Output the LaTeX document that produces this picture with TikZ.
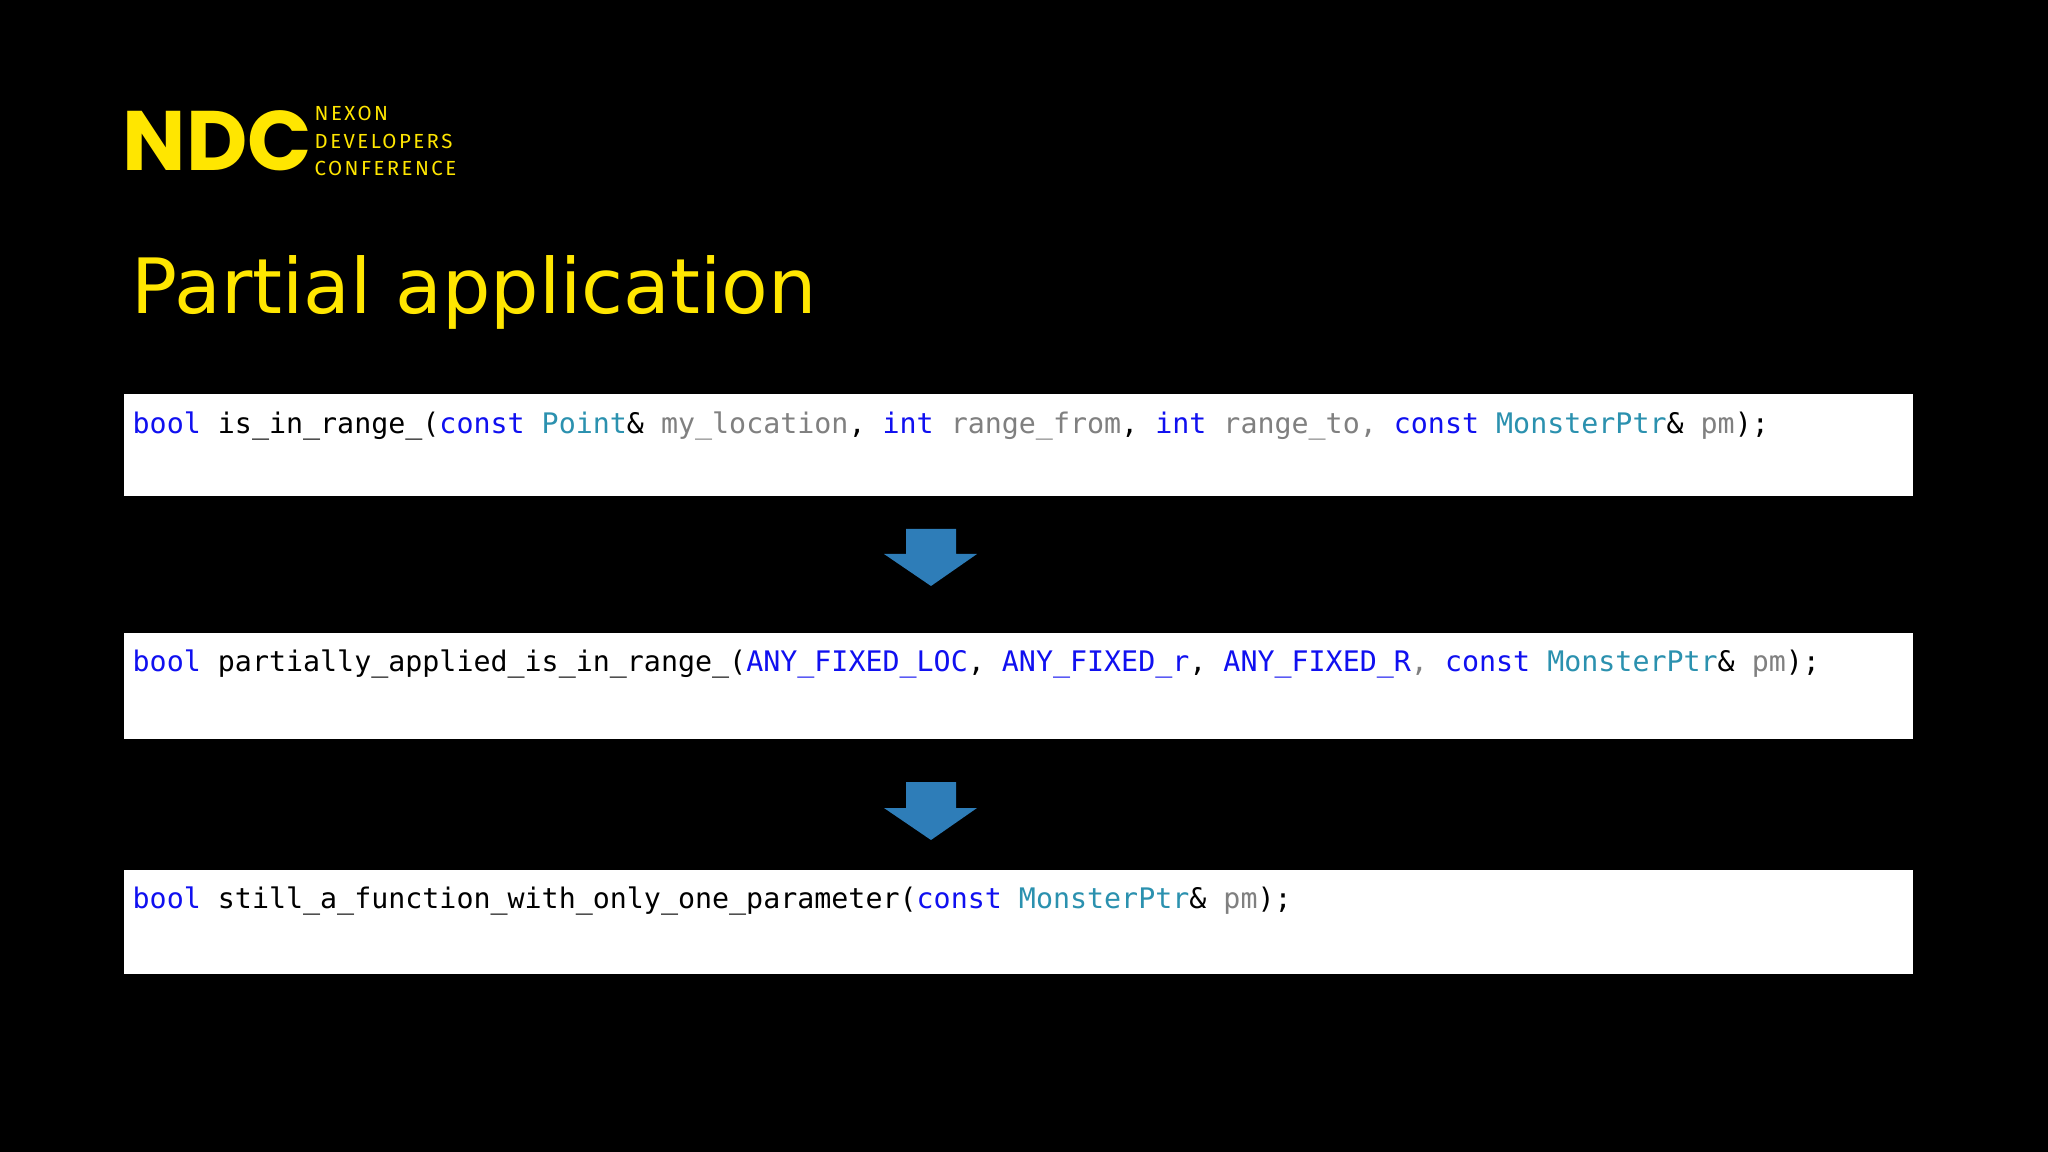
\documentclass[tikz,border=0pt]{standalone}
\usepackage{fontspec}
\setmainfont{DejaVu Sans}
\setmonofont{DejaVu Sans Mono}
\newfontfamily\logofont[LetterSpace=12]{Fira Sans}
\newfontfamily\ndcfont{Poppins Bold}
\definecolor{ndcyellow}{HTML}{FFE600}
\definecolor{kw}{HTML}{1010F0}
\definecolor{ty}{HTML}{2B91AF}
\definecolor{pa}{HTML}{808080}
\definecolor{arrowblue}{HTML}{2E7DB8}
\newcommand{\K}[1]{\textcolor{kw}{#1}}
\newcommand{\T}[1]{\textcolor{ty}{#1}}
\newcommand{\Pa}[1]{\textcolor{pa}{#1}}
\tikzset{
  codebox/.style={fill=white, draw=none},
  code/.style={anchor=west, inner sep=0pt, font=\ttfamily\fontsize{8.05pt}{9pt}\selectfont, text=black},
  downarrow/.style={fill=arrowblue, draw=none}
}
\begin{document}
\begin{tikzpicture}[x=0.01cm,y=-0.01cm]
\useasboundingbox[fill=black] (0,0) rectangle (2048,1152);
% logo
\node[anchor=west, inner sep=0pt, text=ndcyellow, font=\ndcfont\fontsize{24pt}{24pt}\selectfont] (ndc) at (122,141) {NDC};
\node[anchor=north west, inner sep=0pt, text=ndcyellow, align=left, font=\logofont\fontsize{5.8pt}{7.7pt}\selectfont] (ndctxt) at (314,106) {NEXON\\DEVELOPERS\\CONFERENCE};
% title
\node[anchor=west, inner sep=0pt, text=ndcyellow, font=\fontsize{21.7pt}{26pt}\selectfont] (title) at (131,292) {Partial application};
% boxes
\fill[codebox] (124,394) rectangle (1913,496);
\fill[codebox] (124,633) rectangle (1913,739);
\fill[codebox] (124,870) rectangle (1913,974);
\node[code] (c1) at (132,426) {\K{bool} is\_in\_range\_(\K{const} \T{Point}\& \Pa{my\_location}, \K{int} \Pa{range\_from}, \K{int} \Pa{range\_to,} \K{const} \T{MonsterPtr}\& \Pa{pm});};
\node[code] (c2) at (132,664) {\K{bool} partially\_applied\_is\_in\_range\_(\K{ANY\_FIXED\_LOC}, \K{ANY\_FIXED\_r}, \K{ANY\_FIXED\_R}\Pa{,} \K{const} \T{MonsterPtr}\& \Pa{pm});};
\node[code] (c3) at (132,901) {\K{bool} still\_a\_function\_with\_only\_one\_parameter(\K{const} \T{MonsterPtr}\& \Pa{pm});};
% arrows
\fill[downarrow] (906,529) -- (956,529) -- (956,554) -- (977,554) -- (931,586) -- (884,554) -- (906,554) -- cycle;
\fill[downarrow] (906,782) -- (956,782) -- (956,808) -- (977,808) -- (931,840) -- (884,808) -- (906,808) -- cycle;
\end{tikzpicture}
\end{document}
